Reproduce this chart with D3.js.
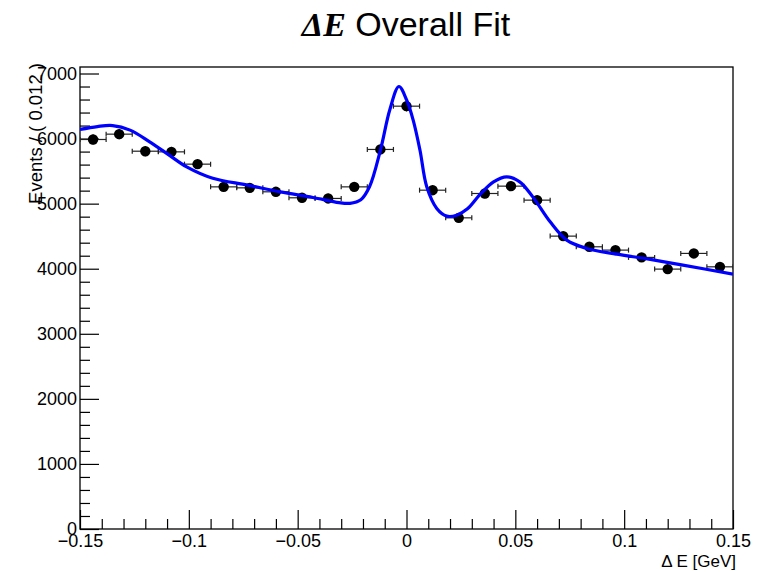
<!DOCTYPE html>
<html>
<head>
<meta charset="utf-8">
<script src="https://cdn.jsdelivr.net/npm/d3@7"></script>
<style>
  body { margin: 0; background: #fff; }
  text { font-family: "Liberation Sans", Arial, sans-serif; fill: #000; }
</style>
</head>
<body>
<script>
// binned data, bin width 0.012 GeV
var binCenters = [-0.144, -0.132, -0.120, -0.108, -0.096, -0.084, -0.072, -0.060, -0.048, -0.036,
                  -0.024, -0.012, 0.000, 0.012, 0.024, 0.036, 0.048, 0.060, 0.072, 0.084,
                  0.096, 0.108, 0.120, 0.132, 0.144];
var binCounts = [5986, 6068, 5806, 5796, 5607, 5258, 5243, 5182, 5090, 5080,
                 5258, 5833, 6498, 5207, 4782, 5156, 5269, 5054, 4501, 4337,
                 4286, 4174, 3994, 4235, 4029];
var binHalfWidth = 0.006;

// fit curve, points
var fitX = [-0.150, -0.142, -0.135, -0.127, -0.118, -0.109, -0.101, -0.089, -0.073, -0.058,
            -0.043, -0.031, -0.026, -0.021, -0.017, -0.012, -0.0076, -0.0035, 0.0001, 0.0031,
            0.0062, 0.0093, 0.0139, 0.0185, 0.0231, 0.028, 0.034, 0.040, 0.046, 0.052,
            0.058, 0.066, 0.0736, 0.0828, 0.0966, 0.112, 0.127, 0.150];
var fitY = [6140, 6185, 6200, 6130, 5950, 5745, 5565, 5390, 5285, 5180,
            5095, 5015, 5005, 5060, 5260, 5820, 6450, 6800, 6590, 6280,
            5820, 5258, 4926, 4808, 4823, 4920, 5150, 5335, 5412, 5335,
            5104, 4720, 4439, 4312, 4224, 4143, 4055, 3917];

var xTicks = [-0.15, -0.1, -0.05, 0, 0.05, 0.1, 0.15];
var xTickLabels = ["\u22120.15", "\u22120.1", "\u22120.05", "0", "0.05", "0.1", "0.15"];
var yTicks = [0, 1000, 2000, 3000, 4000, 5000, 6000, 7000];
var yTickLabels = ["0", "1000", "2000", "3000", "4000", "5000", "6000", "7000"];

var width = 760, height = 572;
var padL = 80, padR = 733, padT = 67, padB = 529; // frame edges in px

var svg = d3.select("body").append("svg")
  .attr("width", width)
  .attr("height", height);

var x = d3.scaleLinear().domain([-0.15, 0.15]).range([padL, padR]);
var y = d3.scaleLinear().domain([0, 7100]).range([padB, padT]);

svg.append("defs").append("clipPath").attr("id", "frame")
  .append("rect")
  .attr("x", padL).attr("y", padT)
  .attr("width", padR - padL).attr("height", padB - padT);

// minor ticks every 0.01 / 200
var xMinor = d3.range(-0.15, 0.1501, 0.01).filter(function(v) {
  return Math.abs(Math.round(v * 100) % 5) !== 0;
});
var yMinor = d3.range(200, 7100, 200).filter(function(v) { return v % 1000 !== 0; });

svg.append("g")
  .attr("transform", "translate(0," + padB + ")")
  .call(d3.axisBottom(x).tickValues(xMinor).tickSize(-10).tickSizeOuter(0).tickFormat(""))
  .call(function(g) { g.select(".domain").remove(); });

svg.append("g")
  .attr("transform", "translate(" + padL + ",0)")
  .call(d3.axisLeft(y).tickValues(yMinor).tickSize(-10).tickSizeOuter(0).tickFormat(""))
  .call(function(g) { g.select(".domain").remove(); });

var xAxis = svg.append("g")
  .attr("transform", "translate(0," + padB + ")")
  .call(d3.axisBottom(x).tickValues(xTicks).tickSize(-19).tickSizeOuter(0).tickPadding(5)
    .tickFormat(function(d, i) { return xTickLabels[i]; }));
xAxis.select(".domain").remove();
xAxis.selectAll("text").style("font-size", "18px").style("font-family", "Liberation Sans, Arial, sans-serif");

var yAxis = svg.append("g")
  .attr("transform", "translate(" + padL + ",0)")
  .call(d3.axisLeft(y).tickValues(yTicks).tickSize(-19).tickSizeOuter(0).tickPadding(3)
    .tickFormat(function(d, i) { return yTickLabels[i]; }));
yAxis.select(".domain").remove();
yAxis.selectAll("text").style("font-size", "18px").style("font-family", "Liberation Sans, Arial, sans-serif");

svg.selectAll(".tick line").attr("stroke", "#000").attr("stroke-width", 1.2);

// frame
svg.append("rect")
  .attr("x", padL).attr("y", padT)
  .attr("width", padR - padL).attr("height", padB - padT)
  .attr("fill", "none").attr("stroke", "#000").attr("stroke-width", 1.3);

// data points with error bars
var pts = svg.append("g").attr("clip-path", "url(#frame)");
var bins = binCenters.map(function(c, i) { return { x: c, n: binCounts[i] }; });

pts.selectAll("line.herr").data(bins).enter().append("line")
  .attr("class", "herr")
  .attr("x1", function(d) { return x(d.x - binHalfWidth); })
  .attr("x2", function(d) { return x(d.x + binHalfWidth); })
  .attr("y1", function(d) { return y(d.n); })
  .attr("y2", function(d) { return y(d.n); })
  .attr("stroke", "#222").attr("stroke-width", 1.2);

pts.selectAll("line.capl").data(bins).enter().append("line")
  .attr("class", "capl")
  .attr("x1", function(d) { return x(d.x - binHalfWidth); })
  .attr("x2", function(d) { return x(d.x - binHalfWidth); })
  .attr("y1", function(d) { return y(d.n) - 2.5; })
  .attr("y2", function(d) { return y(d.n) + 2.5; })
  .attr("stroke", "#222").attr("stroke-width", 1.2);

pts.selectAll("line.capr").data(bins).enter().append("line")
  .attr("class", "capr")
  .attr("x1", function(d) { return x(d.x + binHalfWidth); })
  .attr("x2", function(d) { return x(d.x + binHalfWidth); })
  .attr("y1", function(d) { return y(d.n) - 2.5; })
  .attr("y2", function(d) { return y(d.n) + 2.5; })
  .attr("stroke", "#222").attr("stroke-width", 1.2);

pts.selectAll("line.verr").data(bins).enter().append("line")
  .attr("class", "verr")
  .attr("x1", function(d) { return x(d.x); })
  .attr("x2", function(d) { return x(d.x); })
  .attr("y1", function(d) { return y(d.n + Math.sqrt(d.n)); })
  .attr("y2", function(d) { return y(d.n - Math.sqrt(d.n)); })
  .attr("stroke", "#000").attr("stroke-width", 1.2);

pts.selectAll("circle").data(bins).enter().append("circle")
  .attr("cx", function(d) { return x(d.x); })
  .attr("cy", function(d) { return y(d.n); })
  .attr("r", 5.2)
  .attr("fill", "#000");

// fit curve
var fit = fitX.map(function(v, i) { return [v, fitY[i]]; });
svg.append("path")
  .datum(fit)
  .attr("clip-path", "url(#frame)")
  .attr("fill", "none")
  .attr("stroke", "#0000ff")
  .attr("stroke-width", 3.2)
  .attr("d", d3.line()
    .x(function(d) { return x(d[0]); })
    .y(function(d) { return y(d[1]); })
    .curve(d3.curveCatmullRom.alpha(0.5)));

// title
var title = svg.append("text")
  .attr("x", 406).attr("y", 36)
  .attr("text-anchor", "middle")
  .style("font-size", "34px");
title.append("tspan")
  .style("font-family", "Liberation Serif, Times New Roman, serif")
  .style("font-weight", "bold")
  .style("font-style", "italic")
  .text("\u0394E");
title.append("tspan").text(" Overall Fit");

// axis titles
svg.append("text")
  .attr("x", 736).attr("y", 567)
  .attr("text-anchor", "end")
  .style("font-size", "17px")
  .text("\u0394 E [GeV]");

svg.append("text")
  .attr("transform", "translate(42,63) rotate(-90)")
  .attr("text-anchor", "end")
  .style("font-size", "18.5px")
  .text("Events / ( 0.012 )");
</script>
</body>
</html>
